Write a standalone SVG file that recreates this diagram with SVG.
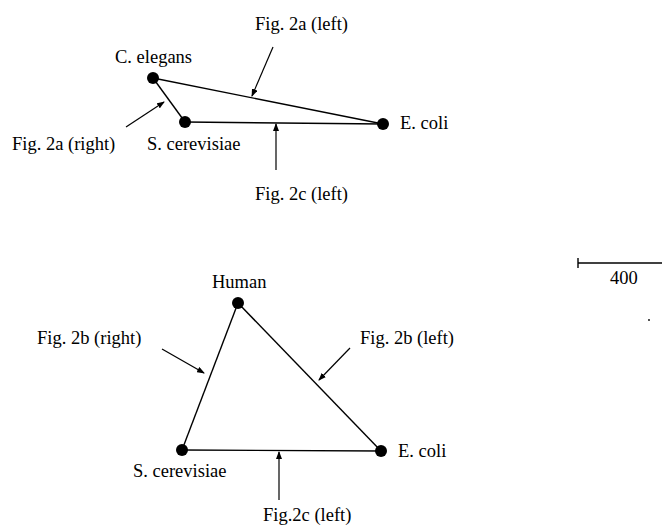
<svg xmlns="http://www.w3.org/2000/svg" width="663" height="530" viewBox="0 0 663 530">
<style>
text{font-family:"Liberation Serif","Times New Roman",serif;font-size:18.5px;fill:#000}
.e{stroke:#000;stroke-width:1.4;fill:none}
.a{stroke:#000;stroke-width:1.2;fill:none;marker-end:url(#ah)}
.d{fill:#000}
</style>
<defs>
<marker id="ah" markerWidth="8" markerHeight="6" refX="7" refY="3" orient="auto" markerUnits="userSpaceOnUse"><path d="M0,0 L8,3 L0,6 Z" fill="#000"/></marker>
</defs>
<rect width="663" height="530" fill="#fff"/>
<g id="connectors">
<line class="e" x1="153" y1="78" x2="383" y2="124"/>
<line class="e" x1="153" y1="78" x2="185" y2="122"/>
<line class="e" x1="185" y1="122" x2="383" y2="124"/>
<line class="a" x1="273" y1="47" x2="252" y2="96"/>
<line class="a" x1="126" y1="127" x2="164" y2="102"/>
<line class="a" x1="276" y1="170" x2="276" y2="124"/>
<line class="e" x1="238" y1="303" x2="182" y2="450"/>
<line class="e" x1="238" y1="303" x2="381" y2="451"/>
<line class="e" x1="182" y1="450" x2="381" y2="451"/>
<line class="a" x1="162" y1="349" x2="204" y2="373"/>
<line class="a" x1="350" y1="348" x2="319" y2="380"/>
<line class="a" x1="279" y1="500" x2="279" y2="452"/>
</g>
<g id="c_elegans"><circle class="d" cx="153" cy="78" r="6"/><text x="115" y="63">C. elegans</text></g>
<g id="s_cerevisiae_top"><circle class="d" cx="185" cy="122" r="6"/><text x="147" y="150">S. cerevisiae</text></g>
<g id="e_coli_top"><circle class="d" cx="383" cy="124" r="6"/><text x="400" y="129">E. coli</text></g>
<g id="label_2a_left"><text x="255" y="30">Fig. 2a (left)</text></g>
<g id="label_2a_right"><text x="12" y="150">Fig. 2a (right)</text></g>
<g id="label_2c_left_top"><text x="255" y="200">Fig. 2c (left)</text></g>
<g id="human"><circle class="d" cx="238" cy="303" r="6"/><text x="212" y="288">Human</text></g>
<g id="s_cerevisiae_bottom"><circle class="d" cx="182" cy="450" r="6"/><text x="133" y="477">S. cerevisiae</text></g>
<g id="e_coli_bottom"><circle class="d" cx="381" cy="451" r="6"/><text x="398" y="457">E. coli</text></g>
<g id="label_2b_right"><text x="37" y="344">Fig. 2b (right)</text></g>
<g id="label_2b_left"><text x="360" y="344">Fig. 2b (left)</text></g>
<g id="label_2c_left_bottom"><text x="263" y="521">Fig.2c (left)</text></g>
<g id="scale">
<line class="e" x1="578" y1="263" x2="662" y2="263"/>
<line class="e" x1="578" y1="258" x2="578" y2="268"/>
<text x="610" y="284">400</text>
<circle class="d" cx="649" cy="320" r="0.9"/>
</g>
</svg>
